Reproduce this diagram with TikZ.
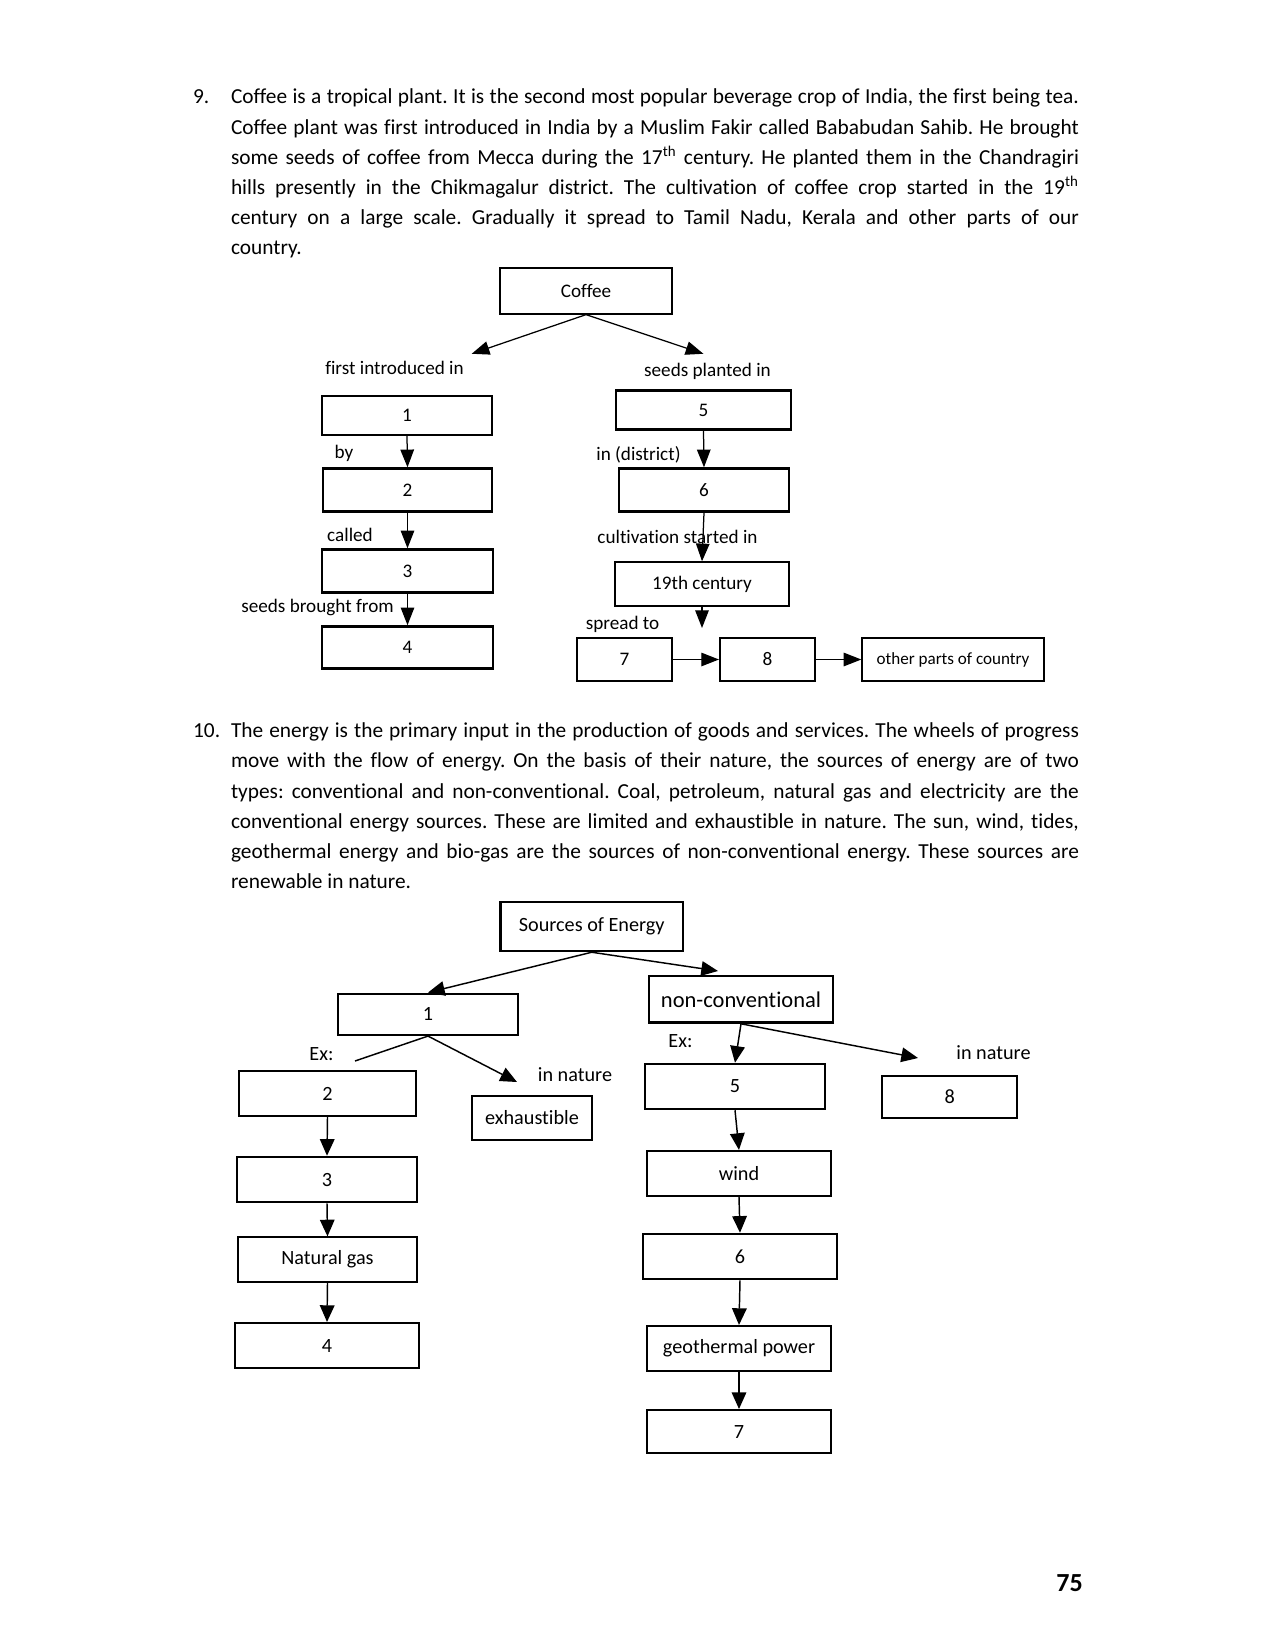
\documentclass[tikz,border=0pt]{standalone}
\usepackage{fontspec}
\setmainfont{Carlito}[Ligatures=CommonOff]
\usetikzlibrary{arrows.meta,positioning}

\tikzset{
  wh/.style 2 args={minimum width=#1pt, minimum height=#2pt},
  box/.style={draw, line width=1.2pt, inner sep=0pt, font=\fontsize{9.2}{11}\selectfont},
  ebox/.style={draw, line width=1pt, inner sep=0pt, font=\fontsize{9.7}{11.5}\selectfont},
  lbl/.style={inner sep=0pt, font=\fontsize{9.2}{11}\selectfont},
  elbl/.style={inner sep=0pt, font=\fontsize{9.7}{11.5}\selectfont},
  arr/.style={-{Triangle[length=8.5pt,width=6.5pt]}, line width=0.6pt},
  earr/.style={-{Triangle[length=8pt,width=7pt]}, line width=0.7pt},
  para/.style={inner sep=0pt, text width=407pt, align=justify, font=\fontsize{10.25}{14.45}\selectfont},
  num/.style={inner sep=0pt, font=\fontsize{10.25}{14.45}\selectfont},
}

\begin{document}
\frenchspacing
\begin{tikzpicture}[x=0.48pt, y=-0.48pt]

            % page frame (pixels of the scanned page)
            \useasboundingbox (0,0) rectangle (1275,1651);

            % question 9
            \node[num, anchor=base west] (q9) at (192.7,104) {9.};
            \node[para, anchor=base west] (p9) at (230.6,104) {Coffee is a tropical plant. It is the second most popular beverage crop of India, the first being tea.\linebreak
            Coffee plant was first introduced in India by a Muslim Fakir called Bababudan Sahib. He brought\linebreak
            some seeds of coffee from Mecca during the 17\textsuperscript{th} century. He planted them in the Chandragiri\linebreak
            hills presently in the Chikmagalur district. The cultivation of coffee crop started in the 19\textsuperscript{th}\linebreak
            century on a large scale. Gradually it spread to Tamil Nadu, Kerala and other parts of our\linebreak
            country.};

            % coffee chart
            \node[box, line width=1pt, wh={82.6}{21.7}] (coffee) at (586,291) {Coffee};
            \coordinate (introtip) at (471.7,353.8);
            \coordinate (planttip) at (703.4,353.8);
            \node[lbl] (introlbl) at (394.5,367.5) {first introduced in};
            \node[lbl] (plantlbl) at (707.5,371.7) {seeds planted in};

            \node[box, wh={81.6}{18.7}] (c1) at (407,415.5) {1};
            \node[lbl] (bylbl) at (344,453) {by};
            \node[box, wh={81}{20.6}] (c2) at (407.5,490) {2};
            \node[lbl] (calledlbl) at (350,535) {called};
            \node[box, wh={82}{20.6}] (c3) at (407.5,571) {3};
            \node[lbl] (fromlbl) at (317.5,607.6) {seeds brought from};
            \node[box, wh={82}{20.2}] (c4) at (407.5,647.5) {4};

            \node[box, wh={84}{18.7}] (c5) at (703.5,410) {5};
            \node[lbl] (distlbl) at (638.5,455) {in (district)};
            \node[box, wh={81.6}{20.6}] (c6) at (704,490) {6};
            \node[lbl] (cultlbl) at (677.5,537) {cultivation started in};
            \node[box, line width=0.9pt, wh={83.5}{20.9}] (cent) at (702,584) {19th century};
            \node[lbl] (spreadlbl) at (622.5,624) {spread to};
            \coordinate (spreadtip) at (702,628);
            \node[box, line width=1pt, wh={45.6}{20.6}] (c7) at (624.5,659.5) {7};
            \node[box, line width=1pt, wh={45.6}{20.6}] (c8) at (767.5,659.5) {8};
            \node[box, line width=1pt, wh={87}{20.6}, font=\fontsize{8.2}{10}\selectfont] (other) at (953,659.5) {other parts of country};

            \draw[arr] (coffee.south) -- (introtip);
            \draw[arr] (coffee.south) -- (planttip);
            \draw[arr] (c1.south) -- (c2.north);
            \draw[arr] (c2.south) -- (c3.north);
            \draw[arr] (c3.south) -- (c4.north);
            \draw[arr] (c5.south) -- (c6.north);
            \draw[arr] (c6.south) -- (cent.north);
            \draw[arr] (cent.south) -- (spreadtip);
            \draw[arr] (c7.east) -- (c8.west);
            \draw[arr] (c8.east) -- (other.west);

            % question 10
            \node[num, anchor=base west] (q10) at (192.7,737.8) {10.};
            \node[para, anchor=base west] (p10) at (230.6,737.8) {The energy is the primary input in the production of goods and services. The wheels of progress\linebreak
            move with the flow of energy. On the basis of their nature, the sources of energy are of two\linebreak
            types: conventional and non-conventional. Coal, petroleum, natural gas and electricity are the\linebreak
            conventional energy sources. These are limited and exhaustible in nature. The sun, wind, tides,\linebreak
            geothermal energy and bio-gas are the sources of non-conventional energy. These sources are\linebreak
            renewable in nature.};

            % energy chart
            \node[ebox, line width=1.2pt, wh={87.6}{23.5}] (src) at (591.75,926.5) {Sources of Energy};
            \node[ebox, wh={86.4}{19.9}] (e1) at (428,1014.3) {1};
            \node[ebox, line width=1.2pt, wh={88.3}{22.3}, font=\fontsize{10.8}{13}\selectfont] (noncon) at (741,999.3) {non-conventional};
            \coordinate (noncontip) at (718,971);

            \node[elbl] (exleft) at (321.5,1054) {Ex:};
            \coordinate (exleftend) at (355,1061);
            \node[elbl] (natleft) at (575,1075) {in nature};
            \coordinate (natlefttip) at (517,1082);
            \node[ebox, wh={57.6}{21.1}] (exh) at (532,1118) {exhaustible};

            \node[ebox, wh={85}{21.6}] (e2) at (327.5,1093.5) {2};
            \node[ebox, line width=1.2pt, wh={86.4}{21.6}] (e3) at (327,1179.5) {3};
            \node[ebox, wh={86}{21.4}] (gas) at (327.5,1259.7) {Natural gas};
            \node[ebox, wh={88.3}{21.6}] (e4) at (327,1345.5) {4};

            \node[elbl] (exright) at (680.5,1041.5) {Ex:};
            \node[elbl] (natright) at (993.5,1053) {in nature};
            \coordinate (natrighttip) at (918,1058);
            \node[ebox, wh={64.6}{20.2}] (e8) at (949.7,1097) {8};

            \node[ebox, line width=1.2pt, wh={86.4}{21.6}] (e5) at (735,1086.5) {5};
            \node[ebox, wh={88.3}{21.6}] (wind) at (739,1173.5) {wind};
            \node[ebox, line width=1.2pt, wh={93.1}{21.6}] (e6) at (740,1256.5) {6};
            \node[ebox, wh={88.3}{21.6}] (geo) at (739,1348.5) {geothermal power};
            \node[ebox, wh={88.3}{20.6}] (e7) at (739,1431.5) {7};

            \draw[earr] (src.south) -- (e1.north);
            \draw[earr] (src.south) -- (noncontip);
            \draw[line width=0.7pt] (e1.south) -- (exleftend);
            \draw[earr] (e1.south) -- (natlefttip);
            \draw[earr] (e2.south) -- (e3.north);
            \draw[earr] (e3.south) -- (gas.north);
            \draw[earr] (gas.south) -- (e4.north);
            \draw[earr] (noncon.south) -- (e5.north);
            \draw[earr] (noncon.south) -- (natrighttip);
            \draw[earr] (e5.south) -- (wind.north);
            \draw[earr] (wind.south) -- (e6.north);
            \draw[earr] (e6.south) -- (geo.north);
            \draw[earr] (geo.south) -- (e7.north);

            % page number
            \node[inner sep=0pt, font=\bfseries\fontsize{12.5}{14}\selectfont] (pageno) at (1069.5,1583) {75};

\end{tikzpicture}
\end{document}
